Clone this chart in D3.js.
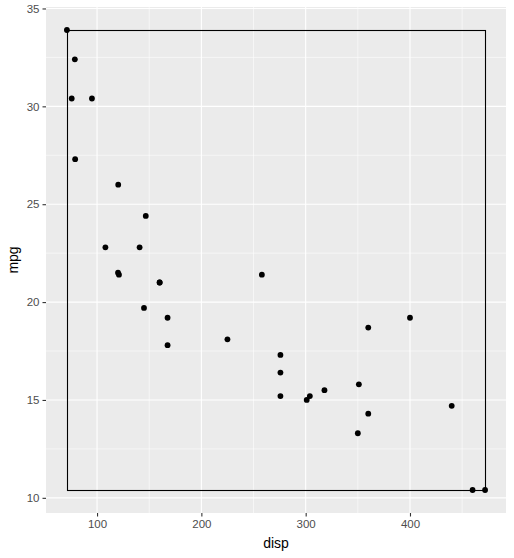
<!DOCTYPE html>
<html><head><meta charset="utf-8">
<script src="https://cdn.jsdelivr.net/npm/d3@7"></script>
<style>body{margin:0;background:#fff}</style>
</head><body>
<svg id="c" width="514" height="558"></svg>
<script>
const disp = [160,160,108,258,360,225,360,146.7,140.8,167.6,167.6,275.8,275.8,275.8,472,460,440,78.7,75.7,71.1,120.1,318,304,350,400,79,120.3,95.1,351,145,301,121];
const mpg = [21.0,21.0,22.8,21.4,18.7,18.1,14.3,24.4,22.8,19.2,17.8,16.4,17.3,15.2,10.4,10.4,14.7,32.4,30.4,33.9,21.5,15.5,15.2,13.3,19.2,27.3,26.0,30.4,15.8,19.7,15.0,21.4];
const xTicks = [100,200,300,400];
const xMinor = [50,150,250,350,450];
const yTicks = [10,15,20,25,30,35];
const yMinor = [12.5,17.5,22.5,27.5,32.5];

const L=46,R=506,T=7,B=513;
const xmin=d3.min(disp),xmax=d3.max(disp),ymin=d3.min(mpg),ymax=d3.max(mpg);
const xe=(xmax-xmin)*0.05, ye=(ymax-ymin)*0.05;
const x=d3.scaleLinear().domain([xmin-xe,xmax+xe]).range([L,R]);
const y=d3.scaleLinear().domain([ymin-ye,ymax+ye]).range([B,T]);
const svg=d3.select("#c");
svg.append("rect").attr("x",L).attr("y",T).attr("width",R-L).attr("height",B-T).attr("fill","#EBEBEB");
const g=svg.append("g");
g.selectAll(".xm").data(xMinor.filter(v=>x(v)>L&&x(v)<R)).join("line").attr("x1",d=>x(d)).attr("x2",d=>x(d)).attr("y1",T).attr("y2",B).attr("stroke","#fff").attr("stroke-width",0.55);
g.selectAll(".ym").data(yMinor).join("line").attr("y1",d=>y(d)).attr("y2",d=>y(d)).attr("x1",L).attr("x2",R).attr("stroke","#fff").attr("stroke-width",0.55);
g.selectAll(".xM").data(xTicks).join("line").attr("x1",d=>x(d)).attr("x2",d=>x(d)).attr("y1",T).attr("y2",B).attr("stroke","#fff").attr("stroke-width",1.1);
g.selectAll(".yM").data(yTicks).join("line").attr("y1",d=>y(d)).attr("y2",d=>y(d)).attr("x1",L).attr("x2",R).attr("stroke","#fff").attr("stroke-width",1.1);

const px=v=>Math.round(v)+0.5;
svg.append("rect").attr("x",px(x(xmin))).attr("y",px(y(ymax))).attr("width",Math.round(x(xmax)-x(xmin))).attr("height",Math.round(y(ymin)-y(ymax))).attr("fill","none").attr("stroke","#000").attr("stroke-width",1.1);

svg.selectAll("circle").data(disp.map((d,i)=>[d,mpg[i]])).join("circle").attr("cx",d=>x(d[0])).attr("cy",d=>y(d[1])).attr("r",2.9).attr("fill","#000");

const xa=svg.append("g").attr("transform",`translate(0,${B})`).call(d3.axisBottom(x).tickValues(xTicks).tickSize(3.5).tickPadding(3));
const ya=svg.append("g").attr("transform",`translate(${L},0)`).call(d3.axisLeft(y).tickValues(yTicks).tickSize(3.5).tickPadding(3));
[xa,ya].forEach(a=>{a.select(".domain").remove();a.selectAll("line").attr("stroke","#333").attr("stroke-width",1.1);a.selectAll("text").attr("fill","#4D4D4D").style("font-family","Liberation Sans, Arial, sans-serif").style("font-size","11.5px");});
svg.append("text").attr("x",(L+R)/2).attr("y",548).attr("text-anchor","middle").style("font-family","Liberation Sans, Arial, sans-serif").style("font-size","14px").text("disp");
svg.append("text").attr("transform",`translate(18,${(T+B)/2}) rotate(-90)`).attr("text-anchor","middle").style("font-family","Liberation Sans, Arial, sans-serif").style("font-size","14px").text("mpg");
</script>
</body></html>
